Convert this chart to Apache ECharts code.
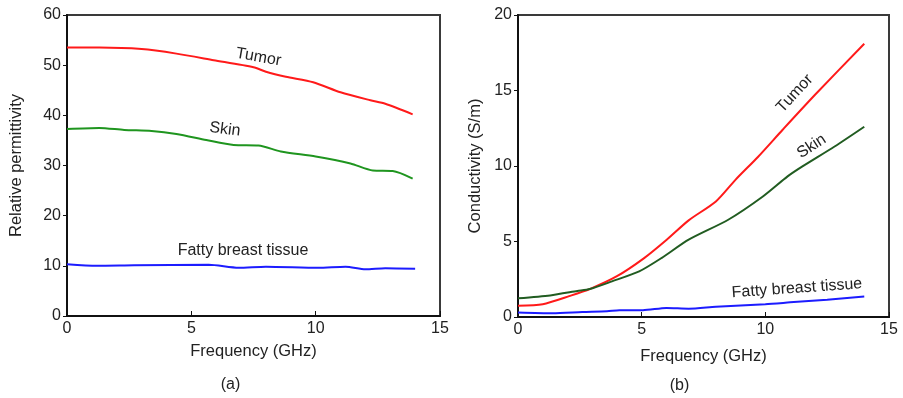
<!DOCTYPE html>
<html>
<head>
<meta charset="utf-8">
<script src="https://cdn.jsdelivr.net/npm/echarts@6/dist/echarts.min.js"></script>
<style>
html,body{margin:0;padding:0;background:#fff;}
#chart{width:903px;height:398px;}
</style>
</head>
<body>
<div id="chart"></div>
<script>
// ---- Data: (a) relative permittivity ----
const permTumorFreq = [0, 1.3, 3.0, 4.4, 5.9, 7.5, 8.0, 8.8, 9.9, 11.0, 12.2, 12.8, 13.9];
const permTumorVals = [53.5, 53.5, 53.2, 52.3, 51.0, 49.6, 48.7, 47.7, 46.6, 44.6, 43.0, 42.3, 40.2];
const permSkinFreq = [0, 1.3, 2.3, 3.4, 4.4, 5.6, 6.7, 7.7, 8.6, 10.0, 11.4, 12.3, 13.1, 13.9];
const permSkinVals = [37.3, 37.5, 37.1, 36.9, 36.3, 35.1, 34.1, 34.0, 32.8, 31.8, 30.4, 29.0, 28.9, 27.4];
const permFatFreq = [0, 1.2, 2.7, 5.7, 6.9, 8.0, 10.1, 11.2, 12.0, 12.8, 14.0];
const permFatVals = [10.3, 10.0, 10.1, 10.2, 9.6, 9.8, 9.6, 9.8, 9.3, 9.5, 9.4];

// ---- Data: (b) conductivity ----
const condTumorFreq = [0, 1.0, 2.1, 2.9, 4.0, 5.1, 6.0, 6.9, 8.0, 8.8, 9.7, 10.7, 12.0, 14.0];
const condTumorVals = [0.75, 0.85, 1.4, 1.85, 2.7, 3.9, 5.1, 6.4, 7.65, 9.1, 10.6, 12.4, 14.7, 18.1];
const condSkinFreq = [0, 1.3, 2.4, 2.9, 3.8, 4.9, 5.8, 6.9, 8.5, 9.9, 10.9, 11.5, 12.8, 14.0];
const condSkinVals = [1.24, 1.43, 1.72, 1.85, 2.36, 3.02, 3.9, 5.12, 6.44, 7.98, 9.31, 9.97, 11.29, 12.6];
const condFatFreq = [0, 1.4, 2.6, 3.6, 4.1, 5.05, 6.0, 6.9, 8.0, 10.0, 11.0, 12.5, 14.0];
const condFatVals = [0.3, 0.25, 0.33, 0.38, 0.45, 0.45, 0.6, 0.55, 0.68, 0.85, 0.97, 1.15, 1.35];

// ---- Axis ticks ----
const xTicks = [0, 5, 10, 15];
const permTicks = [0, 10, 20, 30, 40, 50, 60];
const condTicks = [0, 5, 10, 15, 20];

const zip = (xs, ys) => xs.map((x, i) => [x, ys[i]]);

const FONT = '"Liberation Sans", Arial, Helvetica, sans-serif';
const RED = '#ff1a1a', GREEN_A = '#1f951f', GREEN_B = '#215c21', BLUE = '#1c1cff';

function xAxisCfg(gi, gap) {
  return {
    type: 'value', gridIndex: gi, min: 0, max: 15, interval: 5,
    name: 'Frequency (GHz)', nameLocation: 'middle', nameGap: gap,
    nameTextStyle: { fontFamily: FONT, fontSize: 16.5, color: '#222' },
    axisLine: { show: true, lineStyle: { color: '#111', width: 2 } },
    axisTick: { show: true, inside: true, length: 5, lineStyle: { color: '#111', width: 1 } },
    axisLabel: { fontFamily: FONT, fontSize: 16, color: '#222', margin: 5, showMinLabel: true, showMaxLabel: true },
    splitLine: { show: false }
  };
}
function yAxisCfg(gi, name, max, interval, gap) {
  return {
    type: 'value', gridIndex: gi, min: 0, max: max, interval: interval,
    name: name, nameLocation: 'middle', nameGap: gap, nameRotate: 90,
    nameTextStyle: { fontFamily: FONT, fontSize: 16.5, color: '#222' },
    axisLine: { show: true, lineStyle: { color: '#111', width: 2 } },
    axisTick: { show: true, inside: false, length: 4, lineStyle: { color: '#111', width: 1 } },
    axisLabel: { fontFamily: FONT, fontSize: 16, color: '#222', margin: 6, showMinLabel: true, showMaxLabel: true },
    splitLine: { show: false }
  };
}
function lineSeries(xi, data, color) {
  return {
    type: 'line', xAxisIndex: xi, yAxisIndex: xi, data: data,
    showSymbol: false, symbol: 'none', smooth: 0.25,
    lineStyle: { color: color, width: 2 }, silent: true, animation: false
  };
}

const chart = echarts.init(document.getElementById('chart'), null, { renderer: 'canvas' });
chart.setOption({
  animation: false,
  backgroundColor: '#fff',
  grid: [
    { left: 67, top: 15, width: 373, height: 301, show: true, borderColor: '#3a3a3a', borderWidth: 2, backgroundColor: 'transparent' },
    { left: 518, top: 15, width: 371, height: 302, show: true, borderColor: '#3a3a3a', borderWidth: 2, backgroundColor: 'transparent' }
  ],
  xAxis: [xAxisCfg(0, 27), xAxisCfg(1, 31)],
  yAxis: [
    yAxisCfg(0, 'Relative permittivity', 60, 10, 42),
    yAxisCfg(1, 'Conductivity (S/m)', 20, 5, 34)
  ],
  series: [
    lineSeries(0, zip(permTumorFreq, permTumorVals), RED),
    lineSeries(0, zip(permSkinFreq, permSkinVals), GREEN_A),
    lineSeries(0, zip(permFatFreq, permFatVals), BLUE),
    lineSeries(1, zip(condTumorFreq, condTumorVals), RED),
    lineSeries(1, zip(condSkinFreq, condSkinVals), GREEN_B),
    lineSeries(1, zip(condFatFreq, condFatVals), BLUE)
  ]
});

// Annotations anchored in data coordinates
const notes = [
  { grid: 0, at: [7.7, 51.6], text: 'Tumor', rot: -10 },
  { grid: 0, at: [6.35, 37.2], text: 'Skin', rot: -7 },
  { grid: 0, at: [7.08, 13.0], text: 'Fatty breast tissue', rot: 0 },
  { grid: 1, at: [11.19, 14.8], text: 'Tumor', rot: 47 },
  { grid: 1, at: [11.87, 11.3], text: 'Skin', rot: 33 },
  { grid: 1, at: [11.28, 1.9], text: 'Fatty breast tissue', rot: 4 }
];
const graphics = notes.map(n => {
  const p = chart.convertToPixel({ gridIndex: n.grid }, n.at);
  return {
    type: 'text', x: p[0], y: p[1], rotation: n.rot * Math.PI / 180, silent: true,
    style: { text: n.text, fontFamily: FONT, fontSize: 16, fill: '#222', align: 'center', verticalAlign: 'middle' }
  };
});
const mid0 = chart.convertToPixel({ gridIndex: 0 }, [7.5, 0]);
const mid1 = chart.convertToPixel({ gridIndex: 1 }, [7.5, 0]);
graphics.push({ type: 'text', x: mid0[0] - 23, y: 385, silent: true,
  style: { text: '(a)', fontFamily: FONT, fontSize: 16, fill: '#222', align: 'center', verticalAlign: 'middle' } });
graphics.push({ type: 'text', x: mid1[0] - 24, y: 386, silent: true,
  style: { text: '(b)', fontFamily: FONT, fontSize: 16, fill: '#222', align: 'center', verticalAlign: 'middle' } });
chart.setOption({ graphic: graphics });
</script>
</body>
</html>
